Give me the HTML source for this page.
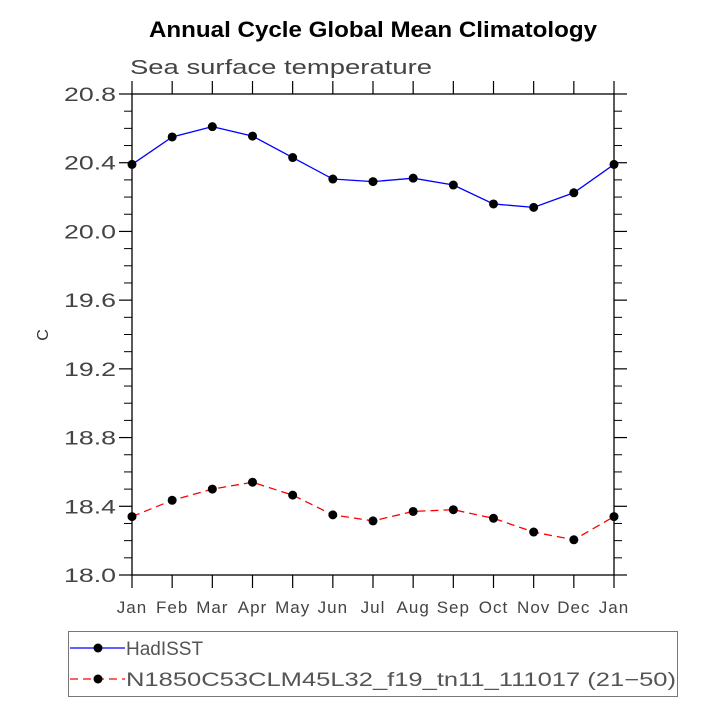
<!DOCTYPE html>
<html><head><meta charset="utf-8"><style>
html,body{margin:0;padding:0;background:#fff;width:715px;height:715px;overflow:hidden}
svg text{font-family:"Liberation Sans",sans-serif}
</style></head><body>
<svg id="chart" width="715" height="715" viewBox="0 0 715 715" xmlns="http://www.w3.org/2000/svg">
<text x="149" y="37" textLength="448" lengthAdjust="spacingAndGlyphs" font-size="22" font-weight="bold" fill="#000">Annual Cycle Global Mean Climatology</text>
<text x="130" y="74" textLength="302" lengthAdjust="spacingAndGlyphs" font-size="20" fill="#444">Sea surface temperature</text>
<text transform="translate(48,335) rotate(-90)" text-anchor="middle" font-size="16" fill="#333">C</text>
<g id="axes"></g>
<g id="series"></g>
<rect x="68.5" y="631.5" width="609" height="65" fill="none" stroke="#777" stroke-width="1"/>
<g>
<line x1="70" y1="648" x2="125" y2="648" stroke="#0000ff" stroke-width="1.3"/>
<circle cx="98" cy="648" r="4.5" fill="#000"/>
<text x="126" y="655" font-size="19" fill="#555">HadISST</text>
</g>
<g>
<line x1="70" y1="679" x2="125" y2="679" stroke="#ff0000" stroke-width="1.3" stroke-dasharray="8,5"/>
<circle cx="98" cy="679" r="4.5" fill="#000"/>
<text x="126" y="686" textLength="550" lengthAdjust="spacingAndGlyphs" font-size="19" fill="#555">N1850C53CLM45L32_f19_tn11_111017 (21−50)</text>
</g>
</svg>
<script>
const months = ["Jan","Feb","Mar","Apr","May","Jun","Jul","Aug","Sep","Oct","Nov","Dec","Jan"];
const hadisst = [20.39,20.55,20.61,20.555,20.43,20.305,20.29,20.31,20.27,20.16,20.14,20.225,20.39];
const model = [18.34,18.435,18.50,18.54,18.465,18.35,18.315,18.37,18.38,18.33,18.25,18.205,18.34];
const yTicks = ["18.0","18.4","18.8","19.2","19.6","20.0","20.4","20.8"];
const L=132,R=614,T=94,B=575,yMin=18.0,yMax=20.8;
const NS="http://www.w3.org/2000/svg";
function xs(i){return L+(R-L)*i/(months.length-1);}
function ys(v){return B-(B-T)*(v-yMin)/(yMax-yMin);}
function mk(tag,attrs,parent){const e=document.createElementNS(NS,tag);for(const k in attrs)e.setAttribute(k,attrs[k]);parent.appendChild(e);return e;}
const ax=document.getElementById('axes');
const frame=mk('rect',{x:L,y:T,width:R-L,height:B-T,fill:'none',stroke:'#000','stroke-width':1.3},ax);


for(let j=0;j<yTicks.length;j++){
  const v=parseFloat(yTicks[j]),y=ys(v);
  const t=mk('line',{x1:L-13,y1:y,x2:L,y2:y,stroke:'#000','stroke-width':1.2},ax);
  
  
  mk('line',{x1:R,y1:y,x2:R+13,y2:y,stroke:'#000','stroke-width':1.2},ax);
  const lb=mk('text',{x:64,y:y+7,textLength:52,lengthAdjust:'spacingAndGlyphs','font-size':19,fill:'#444'},ax);
  lb.textContent=yTicks[j];
  
  
  if(j<yTicks.length-1){
    for(let m=1;m<4;m++){
      const ym=ys(v+0.1*m);
      mk('line',{x1:L-8,y1:ym,x2:L,y2:ym,stroke:'#000','stroke-width':1},ax);
      mk('line',{x1:R,y1:ym,x2:R+8,y2:ym,stroke:'#000','stroke-width':1},ax);
    }
  }
}
for(let i=0;i<months.length;i++){
  const x=xs(i);
  mk('line',{x1:x,y1:B,x2:x,y2:B+13,stroke:'#000','stroke-width':1.2},ax);
  mk('line',{x1:x,y1:T-13,x2:x,y2:T,stroke:'#000','stroke-width':1.2},ax);
  const lb=mk('text',{x:x,y:B+38,'text-anchor':'middle','font-size':17,fill:'#444','letter-spacing':'1'},ax);
  lb.textContent=months[i];
  
  
}
const sg=document.getElementById('series');
function draw(vals,color,dash,name){
  const pl=mk('polyline',{points:vals.map((v,i)=>xs(i)+','+ys(v)).join(' '),fill:'none',stroke:color,'stroke-width':1.3,'stroke-dasharray':dash},sg);
  
  
  vals.forEach((v,i)=>{
    const c=mk('circle',{cx:xs(i),cy:ys(v),r:4.5,fill:'#000'},sg);
    
    
  });
}
draw(hadisst,'#0000ff','none','hadisst');
draw(model,'#ff0000','8,5','model');
</script>
</body></html>
